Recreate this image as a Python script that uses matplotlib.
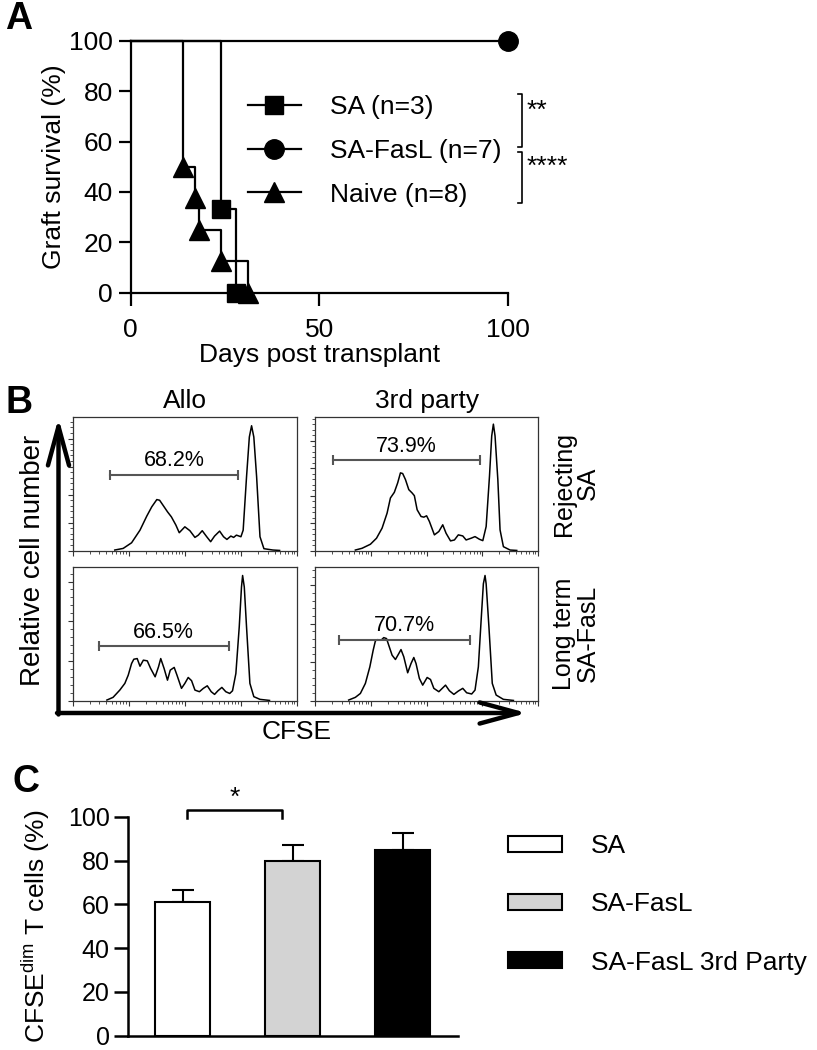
import matplotlib
matplotlib.use("Agg")
import matplotlib.pyplot as plt
from matplotlib.lines import Line2D
from matplotlib.patches import Patch
from matplotlib.ticker import MultipleLocator, AutoMinorLocator, FixedLocator, NullFormatter
import numpy as np

plt.rcParams['font.family'] = ['Liberation Sans', 'DejaVu Sans']
plt.rcParams['mathtext.fontset'] = 'custom'
plt.rcParams['mathtext.rm'] = 'Liberation Sans'

W, H = 817, 1050

# ---- panel A: graft survival ----
sa_days = [0, 24, 28]
sa_surv = [100, 33.3, 0]
fasl_days = [0, 100]
fasl_surv = [100, 100]
naive_days = [0, 14, 17, 18, 24, 31]
naive_surv = [100, 50, 37.5, 25, 12.5, 0]
surv_labels = ["SA (n=3)", "SA-FasL (n=7)", "Naive (n=8)"]

# ---- panel B: CFSE histograms (x in decades, y in % of axis) ----
tl_x = [0.75, 0.90, 1.05, 1.20, 1.32, 1.41, 1.50, 1.55, 1.63, 1.69, 1.76, 1.84, 1.90, 2.00, 2.09,
        2.18, 2.24, 2.31, 2.39, 2.46, 2.53, 2.62, 2.69, 2.75, 2.82, 2.87, 2.92, 3.00, 3.04, 3.10,
        3.15, 3.19, 3.23, 3.28, 3.34, 3.41, 3.57, 3.69]
tl_y = [0.5, 1.7, 5.9, 15.3, 25.7, 32.7, 38.1, 37.6, 32.7, 29.0, 25.2, 19.1, 13.4, 17.8, 14.9,
        9.9, 11.6, 14.9, 10.4, 6.7, 10.9, 14.6, 10.4, 8.4, 10.9, 9.9, 11.6, 10.4, 15.3, 55.0,
        84.7, 93.1, 84.7, 55.0, 10.4, 1.5, 0.5, 0.2]
tr_x = [0.72, 0.84, 0.99, 1.10, 1.20, 1.29, 1.35, 1.42, 1.48, 1.53, 1.57, 1.62, 1.68, 1.74, 1.78,
        1.83, 1.90, 1.95, 2.00, 2.05, 2.14, 2.22, 2.29, 2.35, 2.43, 2.50, 2.57, 2.65, 2.71, 2.80,
        2.87, 2.95, 3.01, 3.07, 3.13, 3.17, 3.20, 3.23, 3.28, 3.32, 3.38, 3.50, 3.62]
tr_y = [0.5, 1.8, 4.8, 9.3, 16.8, 28.0, 39.3, 43.5, 50.5, 58.0, 57.5, 53.0, 45.5, 43.0, 41.0,
        30.5, 25.5, 25.0, 26.0, 21.8, 11.8, 14.3, 19.3, 13.0, 7.3, 8.0, 11.8, 11.0, 8.0, 9.3,
        10.5, 8.5, 7.5, 18.0, 55.5, 85.5, 94.3, 85.5, 53.0, 15.5, 3.0, 0.5, 0.2]
bl_x = [0.61, 0.72, 0.84, 0.93, 0.99, 1.05, 1.09, 1.15, 1.20, 1.26, 1.33, 1.39, 1.47, 1.53, 1.57,
        1.63, 1.69, 1.74, 1.81, 1.86, 1.94, 2.00, 2.06, 2.12, 2.18, 2.26, 2.33, 2.40, 2.47, 2.53,
        2.59, 2.66, 2.73, 2.80, 2.85, 2.91, 2.97, 3.01, 3.03, 3.06, 3.10, 3.16, 3.23, 3.34, 3.51]
bl_y = [0.5, 2.5, 7.9, 12.9, 19.0, 27.7, 30.9, 31.4, 25.7, 30.2, 29.7, 24.0, 17.8, 25.2, 31.4,
        24.0, 15.3, 22.8, 24.8, 19.0, 9.2, 12.9, 17.3, 14.9, 7.9, 6.7, 9.2, 11.1, 6.7, 4.7,
        7.4, 9.9, 6.7, 5.4, 7.4, 20.3, 55.0, 84.7, 93.3, 84.7, 55.0, 12.9, 3.0, 1.0, 0.2]
br_x = [0.60, 0.72, 0.81, 0.90, 0.98, 1.04, 1.08, 1.12, 1.18, 1.23, 1.28, 1.32, 1.38, 1.44, 1.50,
        1.54, 1.59, 1.66, 1.72, 1.77, 1.81, 1.87, 1.93, 2.01, 2.07, 2.13, 2.22, 2.34, 2.41, 2.49,
        2.57, 2.65, 2.72, 2.81, 2.87, 2.93, 2.98, 3.02, 3.05, 3.07, 3.12, 3.18, 3.25, 3.38, 3.56]
br_y = [0.5, 2.5, 5.4, 12.9, 25.2, 37.6, 44.6, 45.5, 45.0, 47.0, 46.3, 41.3, 33.9, 30.7, 35.1,
        38.1, 32.7, 20.8, 27.7, 32.2, 27.7, 16.6, 11.6, 17.3, 15.8, 9.2, 6.7, 11.6, 7.4, 4.7,
        7.2, 9.2, 5.9, 5.0, 7.9, 25.2, 60.0, 87.1, 93.3, 87.1, 55.0, 12.9, 4.2, 1.0, 0.2]
# gates: (start, end, level) and label
gates = [(0.665, 2.95, 56.7), (0.317, 2.96, 67.3), (0.469, 2.78, 40.6), (0.42, 2.78, 45.5)]
gate_labels = ["68.2%", "73.9%", "66.5%", "70.7%"]
col_titles = ["Allo", "3rd party"]
row_titles = ["Rejecting\nSA", "Long term\nSA-FasL"]

# ---- panel C: bars ----
groups = ["SA", "SA-FasL", "SA-FasL 3rd Party"]
means = [61, 80, 85]
sems = [5.5, 7, 7.5]
bar_colors = ["white", "#d3d3d3", "black"]


def px_box(l, t, r, b):
    return [l / W, 1 - b / H, (r - l) / W, (b - t) / H]


fig = plt.figure(figsize=(W / 100, H / 100), dpi=100)

# ================= A =================
ax = fig.add_axes(px_box(130.7, 40.7, 507.7, 292.7))
ax.plot(sa_days, sa_surv, drawstyle="steps-post", color="black", lw=1.6, clip_on=False)
ax.plot(fasl_days, fasl_surv, drawstyle="steps-post", color="black", lw=1.6, clip_on=False)
ax.plot(naive_days, naive_surv, drawstyle="steps-post", color="black", lw=1.6, clip_on=False)
ax.plot(sa_days[1:], sa_surv[1:], "s", color="black", ms=13, clip_on=False, zorder=5)
ax.plot(fasl_days[1:], fasl_surv[1:], "o", color="black", ms=14, clip_on=False, zorder=5)
ax.plot(naive_days[1:], naive_surv[1:], "^", color="black", ms=14, clip_on=False, zorder=5)
ax.set_xlim(0, 100)
ax.set_ylim(0, 100)
ax.set_xticks([0, 50, 100])
ax.set_yticks([0, 20, 40, 60, 80, 100])
for s in ["top", "right"]:
    ax.spines[s].set_visible(False)
for s in ["left", "bottom"]:
    ax.spines[s].set_linewidth(1.6)
ax.tick_params(length=9, width=1.6, labelsize=19, pad=4)
ax.tick_params(axis="x", pad=9)
ax.set_xlabel("Days post transplant", fontsize=19, labelpad=1)
ax.set_ylabel("Graft survival (%)", fontsize=19, labelpad=2)

handles = [Line2D([], [], color="black", lw=1.6, marker=m, ms=ms)
           for m, ms in [("s", 13), ("o", 14), ("^", 14)]]
fig.legend(handles, surv_labels, loc="upper left", bbox_to_anchor=(248 / W, 1 - 95 / H),
           frameon=False, fontsize=19, handlelength=2.0, handletextpad=1.1,
           labelspacing=0.75, borderpad=0, borderaxespad=0)

# significance brackets
for y0, y1 in [(79, 57.7), (55.7, 35.5)]:
    ax.plot([102.8, 103.8, 103.8, 102.8], [y0, y0, y1, y1], color="black", lw=1.2, clip_on=False)
ax.text(105, 72, "**", fontsize=19, va="center", ha="left")
ax.text(105, 50, "****", fontsize=19, va="center", ha="left")
fig.text(19 / W, 1 - 19 / H, "A", fontsize=27, fontweight="bold", ha="center", va="center")

# ================= B =================
boxes = [(72.7, 416.5, 297, 550.7), (315.3, 416.5, 537.9, 550.7),
         (72.7, 566.5, 297, 700.7), (315.3, 566.5, 537.9, 700.7)]
traces = [(tl_x, tl_y), (tr_x, tr_y), (bl_x, bl_y), (br_x, br_y)]
ysteps = [20.9, 20.5, 29.6, 28.7]
minor_x = [d + np.log10(k) for d in range(4) for k in range(2, 10)]
for i in range(4):
    a = fig.add_axes(px_box(*boxes[i]))
    hx, hy = traces[i]
    a.plot(hx, hy, color="black", lw=1.1)
    g0, g1, gy = gates[i]
    a.plot([g0, g1], [gy, gy], color="#555555", lw=1.5, marker="|", ms=7, mew=1.5)
    a.text((g0 + g1) / 2, gy + 2.5, gate_labels[i], fontsize=15.5, ha="center", va="bottom")
    a.set_xlim(0, 4)
    a.set_ylim(0, 100)
    a.xaxis.set_major_locator(FixedLocator([0, 1, 2, 3, 4]))
    a.xaxis.set_minor_locator(FixedLocator(minor_x))
    a.yaxis.set_major_locator(MultipleLocator(ysteps[i]))
    a.yaxis.set_minor_locator(AutoMinorLocator(5))
    a.xaxis.set_major_formatter(NullFormatter())
    a.yaxis.set_major_formatter(NullFormatter())
    a.tick_params(which="major", length=3.5, width=0.8, color="#333333")
    a.tick_params(which="minor", length=2, width=0.6, color="#333333")
    for s in a.spines.values():
        s.set_linewidth(0.9)
        s.set_color("#333333")

for j, t in enumerate(col_titles):
    l, tp, r, b = boxes[j]
    fig.text((l + r) / 2 / W, 1 - 401 / H, t, fontsize=19, ha="center", va="center")
for j, t in enumerate(row_titles):
    l, tp, r, b = boxes[2 * j + 1]
    fig.text(576 / W, 1 - (tp + b) / 2 / H, t, fontsize=18, ha="center", va="center",
             rotation=90, multialignment="center", linespacing=1.0)

arrow = dict(arrowstyle="->,head_length=1.4,head_width=0.38", lw=3.2, color="black",
             shrinkA=0, shrinkB=0, mutation_scale=20)
fig.add_artist(plt.Annotation("", xy=(58.5 / W, 1 - 418 / H), xytext=(58.5 / W, 1 - 714.5 / H),
                              xycoords="figure fraction", arrowprops=arrow))
fig.add_artist(plt.Annotation("", xy=(527 / W, 1 - 713 / H), xytext=(57 / W, 1 - 713 / H),
                              xycoords="figure fraction", arrowprops=arrow))
fig.text(297 / W, 1 - 732 / H, "CFSE", fontsize=19, ha="center", va="center")
fig.text(32.7 / W, 1 - 560 / H, "Relative cell number", fontsize=20, ha="center", va="center",
         rotation=90)
fig.text(19 / W, 1 - 403 / H, "B", fontsize=27, fontweight="bold", ha="center", va="center")

# ================= C =================
axc = fig.add_axes(px_box(127.7, 816.7, 457.5, 1035.7))
xpos = np.arange(len(groups))
axc.bar(xpos, means, width=0.5, color=bar_colors, edgecolor="black", lw=1.5, zorder=2)
axc.errorbar(xpos, means, yerr=[[0] * 3, sems], fmt="none", ecolor="black", elinewidth=1.5,
             capsize=8, capthick=1.5, zorder=1)
axc.set_xlim(-0.5, 2.5)
axc.set_ylim(0, 100)
axc.set_yticks([0, 20, 40, 60, 80, 100])
axc.set_xticks([])
for s in ["top", "right"]:
    axc.spines[s].set_visible(False)
for s in ["left", "bottom"]:
    axc.spines[s].set_linewidth(1.8)
axc.tick_params(axis="y", length=10, width=1.8, labelsize=18, pad=3)
axc.set_ylabel(r"CFSE$^{\mathrm{dim}}$ T cells (%)", fontsize=19, labelpad=11)
axc.plot([0.04, 0.04, 0.9, 0.9], [99.4, 103, 103, 99.4], color="black", lw=1.8, clip_on=False)
axc.text(0.47, 103, "*", fontsize=19, ha="center", va="bottom")

fig.legend([Patch(facecolor=c, edgecolor="black", lw=1.5) for c in bar_colors], groups,
           loc="upper left", bbox_to_anchor=(508 / W, 1 - 834 / H), frameon=False,
           fontsize=19, handlelength=2.05, handleheight=0.55, handletextpad=1.1,
           labelspacing=1.3, borderpad=0, borderaxespad=0)
fig.text(26 / W, 1 - 782 / H, "C", fontsize=27, fontweight="bold", ha="center", va="center")

fig.savefig("out.png", dpi=100)
